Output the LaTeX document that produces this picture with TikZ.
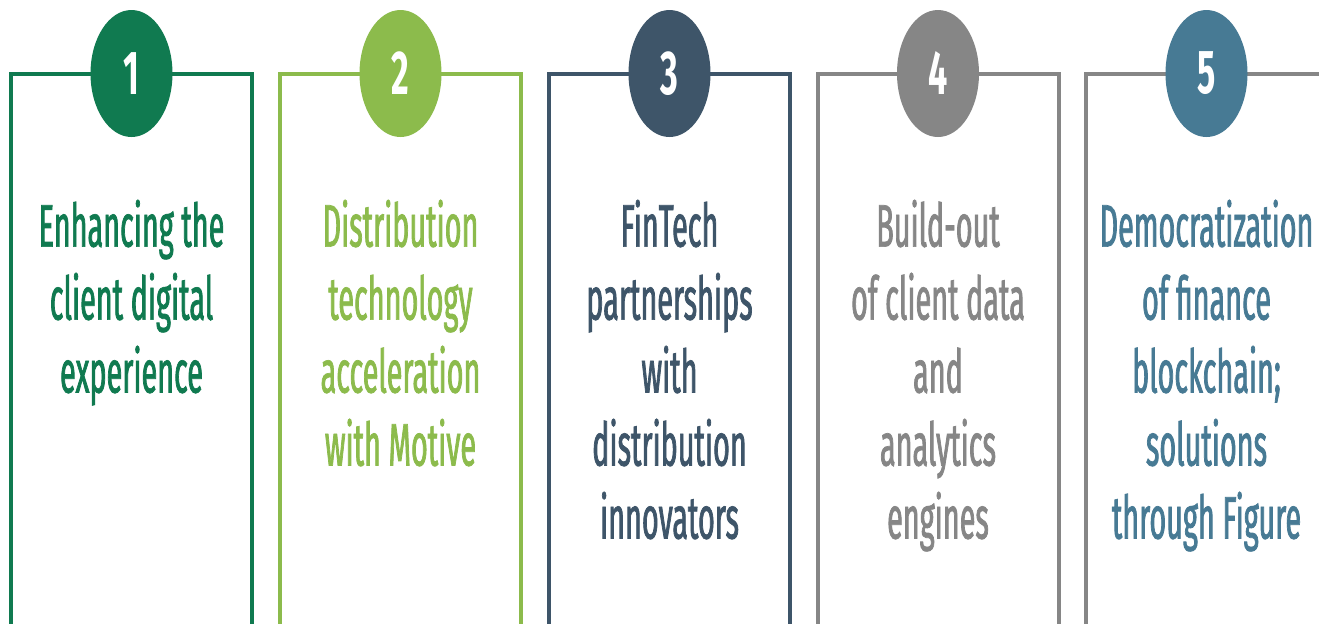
\documentclass[tikz,border=0pt]{standalone}
\usepackage{fontspec}
\setmainfont{Fira Sans}
\newfontfamily\cardfont[FakeStretch=0.48, FakeBold=1.2]{Fira Sans}
\newfontfamily\badgefont[FakeStretch=0.55]{Fira Sans}
\usetikzlibrary{positioning, shapes.geometric}

\definecolor{pineGreen}{RGB}{16,122,80}
\definecolor{leafGreen}{RGB}{140,187,76}
\definecolor{slateBlue}{RGB}{62,85,105}
\definecolor{stoneGrey}{RGB}{134,134,134}
\definecolor{steelBlue}{RGB}{71,122,148}

\begin{document}
\begin{tikzpicture}[
  x=0.5pt, y=-0.5pt,
  frame/.style={line width=2pt, line join=miter},
  badge/.style={ellipse, minimum width=41pt, minimum height=63.5pt,
                inner sep=0pt, text=white,
                font=\badgefont\bfseries\fontsize{31}{31}\selectfont},
  cardtext/.style={align=center, inner sep=0pt,
                   font=\cardfont\fontsize{30}{36.5}\selectfont},
]
  \clip (0,0) rectangle (1319,623);
  \fill[white] (0,0) rectangle (1319,623);

  % open frames, running off the bottom edge
  \foreach \l/\c in {11/pineGreen, 279.5/leafGreen, 548.5/slateBlue,
                     817.5/stoneGrey, 1086/stoneGrey}
    \draw[frame, \c] (\l,650) -- (\l,74) -- (\l+241,74) -- (\l+241,650);

  % numbered badges sitting on the top edge
  \node[badge, fill=pineGreen] (b1) at (131.5,73.5) {1};
  \node[badge, fill=leafGreen] (b2) at (400.5,73.5) {2};
  \node[badge, fill=slateBlue] (b3) at (669.5,73.5) {3};
  \node[badge, fill=stoneGrey] (b4) at (938,73.5)   {4};
  \node[badge, fill=steelBlue] (b5) at (1206.5,73.5) {5};

  \node[cardtext, text=pineGreen, below=31pt of b1] (t1)
    {Enhancing the\\client digital\\experience};
  \node[cardtext, text=leafGreen, below=31pt of b2] (t2)
    {Distribution\\technology\\acceleration\\with Motive};
  \node[cardtext, text=slateBlue, below=31pt of b3] (t3)
    {FinTech\\partnerships\\with\\distribution\\innovators};
  \node[cardtext, text=stoneGrey, below=31pt of b4] (t4)
    {Build-out\\of client data\\and\\analytics\\engines};
  \node[cardtext, text=steelBlue, below=31pt of b5] (t5)
    {Democratization\\of finance\\blockchain;\\solutions\\through Figure};
\end{tikzpicture}
\end{document}
